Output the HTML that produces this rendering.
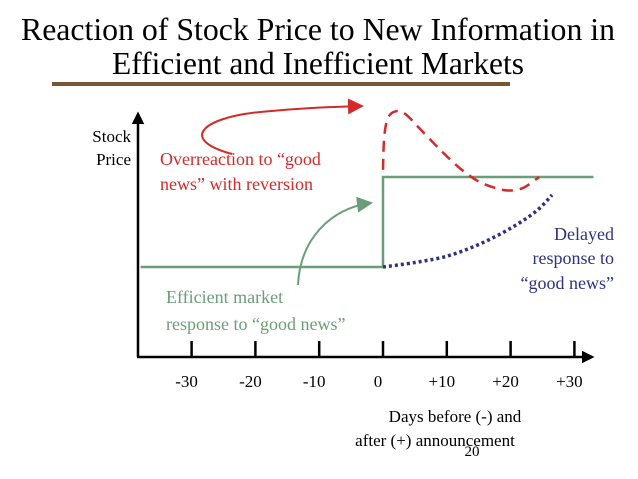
<!DOCTYPE html>
<html><head><meta charset="utf-8"><style>
html,body{margin:0;padding:0;background:#fff;}
svg{display:block;font-family:"Liberation Serif",serif;}
</style></head><body>
<svg id="chart" width="638" height="479" viewBox="0 0 638 479">
<defs>
<marker id="ar" markerWidth="8" markerHeight="8" refX="7" refY="4" orient="auto"><path d="M0,0 L8,4 L0,8 z" fill="#d42a2a"/></marker>
<marker id="ag" markerWidth="8" markerHeight="8" refX="7" refY="4" orient="auto"><path d="M0,0 L8,4 L0,8 z" fill="#6a9e78"/></marker>
<marker id="ak" markerWidth="5" markerHeight="5" refX="4" refY="2.5" orient="auto"><path d="M0,0 L5,2.5 L0,5 z" fill="#000"/></marker>
</defs>
<text x="318" y="40" text-anchor="middle" font-size="32" textLength="594" lengthAdjust="spacingAndGlyphs" fill="#000">Reaction of Stock Price to New Information in</text>
<text x="318" y="74" text-anchor="middle" font-size="32" textLength="412" lengthAdjust="spacingAndGlyphs" fill="#000">Efficient and Inefficient Markets</text>
<rect x="52" y="82" width="458" height="4" fill="#7b5531"/>
<g id="axes"></g>
<g id="series"></g>
<text x="131" y="142" text-anchor="end" font-size="17">Stock</text>
<text x="131" y="165" text-anchor="end" font-size="17">Price</text>
<text x="160" y="165" font-size="18" fill="#d42a2a">Overreaction to “good</text>
<text x="160" y="190" font-size="18" fill="#d42a2a">news” with reversion</text>
<text x="166" y="303" font-size="18" fill="#6a9e78">Efficient market</text>
<text x="166" y="330" font-size="18" fill="#6a9e78">response to “good news”</text>
<text x="614" y="240" text-anchor="end" font-size="18" fill="#2e3183">Delayed</text>
<text x="614" y="264" text-anchor="end" font-size="18" fill="#2e3183">response to</text>
<text x="614" y="289" text-anchor="end" font-size="18" fill="#2e3183">“good news”</text>
<text x="455" y="422" text-anchor="middle" font-size="17">Days before (-) and</text>
<text x="435" y="446" text-anchor="middle" font-size="17">after (+) announcement</text>
<text x="472" y="456" text-anchor="middle" font-size="15">20</text>
<path d="M232,154 C180,140 200,118 260,112 C300,108 330,107 362,106" fill="none" stroke="#d42a2a" stroke-width="2" marker-end="url(#ar)"/>
<path d="M298,285 C300,240 330,208 371,203" fill="none" stroke="#6a9e78" stroke-width="2" marker-end="url(#ag)"/>
</svg>
<script>
var tickDays=[-30,-20,-10,0,10,20,30];
var tickLabels=["-30","-20","-10","0","+10","+20","+30"];
var effDays=[-38,0,0,33];
var effPrice=[0,0,1,1];
var overDays=[0,0.2,0.8,2,3.5,6,9,12,15,18,20,22,24.5];
var overPrice=[1.08,1.45,1.66,1.73,1.7,1.52,1.3,1.1,0.95,0.87,0.85,0.88,1.0];
var delayDays=[0,5,10,15,20,24,26.5];
var delayPrice=[0,0.05,0.12,0.25,0.43,0.62,0.8];
var NS="http://www.w3.org/2000/svg";
function sx(d){return 383+d*6.38;}
function sy(p){return 267-p*90;}
var ax=document.getElementById('axes'),se=document.getElementById('series');
function mk(p,t,a){var e=document.createElementNS(NS,t);for(var k in a)e.setAttribute(k,String(a[k]));p.appendChild(e);return e;}
var yax=mk(ax,'line',{x1:138,y1:357,x2:138,y2:114,stroke:'#000','stroke-width':2.5,'marker-end':'url(#ak)'});


var xax=mk(ax,'line',{x1:137,y1:357,x2:592,y2:357,stroke:'#000','stroke-width':2.5,'marker-end':'url(#ak)'});


tickDays.forEach(function(d,i){
 var t=mk(ax,'line',{x1:sx(d),y1:341,x2:sx(d),y2:357,stroke:'#000','stroke-width':2.5});
 
 
 var l=mk(ax,'text',{x:sx(d)-5,y:387,'text-anchor':'middle','font-size':17});
 l.textContent=tickLabels[i];
 
 
});
function pts(D,P){return D.map(function(d,i){return sx(d).toFixed(1)+','+sy(P[i]).toFixed(1);}).join(' ');}
function smooth(D,P){var p=D.map(function(d,i){return [sx(d),sy(P[i])];});var s='M'+p[0][0]+','+p[0][1];for(var i=0;i<p.length-1;i++){var a=p[i-1]||p[i],b=p[i],c=p[i+1],e=p[i+2]||c;s+=' C'+(b[0]+(c[0]-a[0])/6)+','+(b[1]+(c[1]-a[1])/6)+' '+(c[0]-(e[0]-b[0])/6)+','+(c[1]-(e[1]-b[1])/6)+' '+c[0]+','+c[1];}return s;}
var g=mk(se,'polyline',{points:pts(effDays,effPrice),fill:'none',stroke:'#6a9e78','stroke-width':2.5});


var r=mk(se,'path',{d:smooth(overDays,overPrice),fill:'none',stroke:'#d42a2a','stroke-width':2.5,'stroke-dasharray':'11,7'});


var b=mk(se,'path',{d:smooth(delayDays,delayPrice),fill:'none',stroke:'#2e3183','stroke-width':3.5,'stroke-dasharray':'3,3'});


</script>
</body></html>
